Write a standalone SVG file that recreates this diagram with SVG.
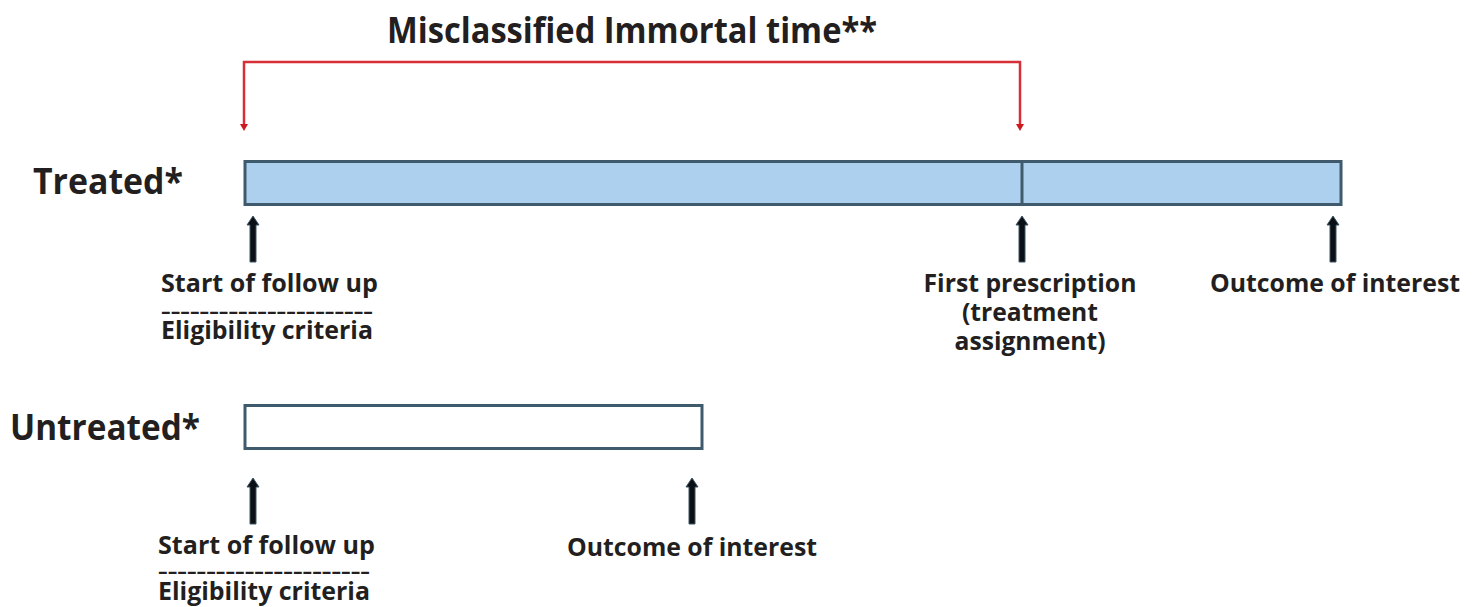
<svg xmlns="http://www.w3.org/2000/svg" width="1479" height="607" viewBox="0 0 1479 607">
<style>
.t{font-family:"Open Sans","Noto Sans","Liberation Sans",sans-serif;font-weight:700;fill:#231f20}
.big{font-size:36px}
.lab{font-size:25px}
.dash{font-size:17px}
.bar{stroke:#3f5a6c;stroke-width:3}
.arr{fill:#0b1016;stroke:#3f5463;stroke-width:1}
.red{fill:none;stroke:#d62f35;stroke-width:2.5}
</style>
<defs>
<path id="up" d="M0,0 L6,9 L3,9 L3,46 L-3,46 L-3,9 L-6,9 Z"/>
</defs>
<rect width="1479" height="607" fill="#ffffff"/>
<g id="title">
<text class="t big" x="632" y="43" text-anchor="middle" textLength="490" lengthAdjust="spacingAndGlyphs">Misclassified Immortal time**</text>
</g>
<g id="bracket">
<path class="red" d="M244,124 L244,62 L1020,62 L1020,124"/>
<path d="M240,124 L248,124 L244,131 Z" fill="#cc1a1f"/>
<path d="M1016,124 L1024,124 L1020,131 Z" fill="#cc1a1f"/>
</g>
<g id="treated">
<text class="t big" x="33" y="194" textLength="150" lengthAdjust="spacingAndGlyphs">Treated*</text>
<rect class="bar" x="245" y="161.5" width="1096" height="43" fill="#aed0ef"/>
<line class="bar" x1="1022" y1="161.5" x2="1022" y2="204.5"/>
</g>
<g id="untreated">
<text class="t big" x="10" y="440" textLength="190" lengthAdjust="spacingAndGlyphs">Untreated*</text>
<rect class="bar" x="245" y="405.5" width="457" height="43" fill="#ffffff"/>
</g>
<g id="connectors">
<use href="#up" class="arr" x="253" y="216"/>
<use href="#up" class="arr" x="1022" y="216"/>
<use href="#up" class="arr" x="1333" y="216"/>
<use href="#up" class="arr" x="253" y="478"/>
<use href="#up" class="arr" x="692" y="478"/>
</g>
<g id="treated-start">
<text class="t lab" x="161" y="292" textLength="217" lengthAdjust="spacingAndGlyphs">Start of follow up</text>
<text class="t dash" x="161" y="318" textLength="212" lengthAdjust="spacingAndGlyphs">----------------------</text>
<text class="t lab" x="161" y="339" textLength="212" lengthAdjust="spacingAndGlyphs">Eligibility criteria</text>
</g>
<g id="treated-first">
<text class="t lab" x="1030" y="292" text-anchor="middle" textLength="213" lengthAdjust="spacingAndGlyphs">First prescription</text>
<text class="t lab" x="1030" y="321" text-anchor="middle" textLength="136" lengthAdjust="spacingAndGlyphs">(treatment</text>
<text class="t lab" x="1030" y="350" text-anchor="middle" textLength="151" lengthAdjust="spacingAndGlyphs">assignment)</text>
</g>
<g id="treated-outcome">
<text class="t lab" x="1210" y="292" textLength="250" lengthAdjust="spacingAndGlyphs">Outcome of interest</text>
</g>
<g id="untreated-start">
<text class="t lab" x="158" y="554" textLength="217" lengthAdjust="spacingAndGlyphs">Start of follow up</text>
<text class="t dash" x="158" y="578" textLength="212" lengthAdjust="spacingAndGlyphs">----------------------</text>
<text class="t lab" x="158" y="600" textLength="212" lengthAdjust="spacingAndGlyphs">Eligibility criteria</text>
</g>
<g id="untreated-outcome">
<text class="t lab" x="567" y="556" textLength="250" lengthAdjust="spacingAndGlyphs">Outcome of interest</text>
</g>
</svg>
